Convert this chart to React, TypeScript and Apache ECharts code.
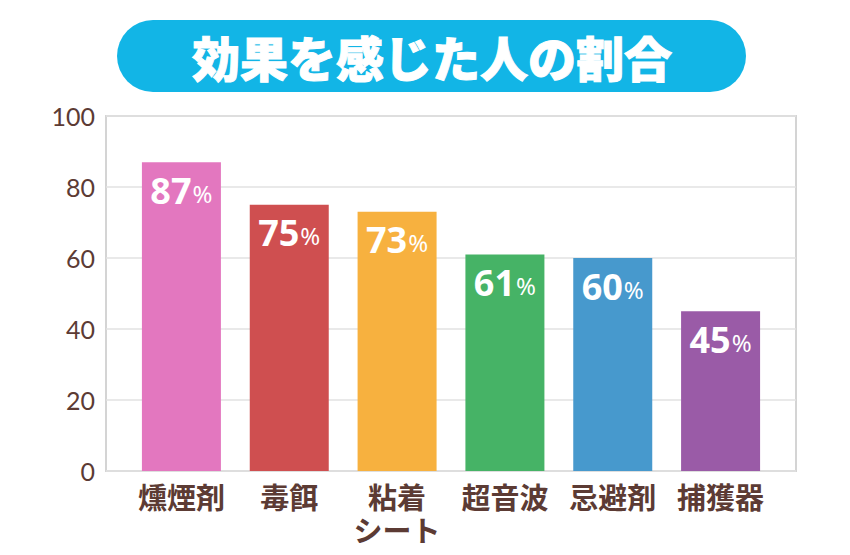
import React, { useEffect, useRef } from "react";
import * as echarts from "echarts";

const categories = ["燻煙剤", "毒餌", "粘着\nシート", "超音波", "忌避剤", "捕獲器"];
const values = [87, 75, 73, 61, 60, 45];
const barColors = ["#e377bf", "#cf4f50", "#f7b13f", "#46b366", "#4799cd", "#9a5ba7"];
const yTicks = [0, 20, 40, 60, 80, 100];
const titleText = "効果を感じた人の割合";

export default function App() {
  const ref = useRef<HTMLDivElement>(null);
  useEffect(() => {
    if (!ref.current) return;
    const chart = echarts.init(ref.current, null, { renderer: "svg" });
    const brown = "#5c3b34";
    chart.setOption({
      animation: false,
      backgroundColor: "#ffffff",
      graphic: [
        {
          type: "rect",
          shape: { x: 117, y: 20, width: 629, height: 72, r: 36 },
          style: { fill: "#12b5e6" },
        },
        {
          type: "text",
          x: 432,
          y: 56,
          style: {
            text: titleText,
            fill: "#ffffff",
            font: "900 48px 'Noto Sans CJK JP'",
            align: "center",
            verticalAlign: "middle",
            stroke: "#ffffff",
            lineWidth: 1,
          },
        },
      ],
      grid: [
        { left: 106, right: 54, top: 116, bottom: 84, show: true, borderColor: "#d4d4d4", borderWidth: 2, backgroundColor: "transparent" },
        { left: 127.5, right: 75.5, top: 116, bottom: 84 },
      ],
      xAxis: [
        { type: "value", gridIndex: 0, show: false, min: 0, max: 1 },
        {
          type: "category",
          gridIndex: 1,
          data: categories,
          axisLine: { show: false },
          axisTick: { show: false },
          axisLabel: {
            color: brown,
            fontSize: 29,
            fontWeight: "bold",
            fontFamily: "'Noto Sans CJK JP'",
            lineHeight: 33,
            margin: 8,
            interval: 0,
          },
        },
      ],
      yAxis: [
        {
          type: "value",
          gridIndex: 0,
          min: yTicks[0],
          max: yTicks[yTicks.length - 1],
          interval: 20,
          axisLine: { show: false },
          axisTick: { show: false },
          splitLine: { lineStyle: { color: "#e2e2e2", width: 1.5 } },
          axisLabel: { color: brown, fontSize: 25, fontFamily: "Lato", margin: 11 },
        },
        { type: "value", gridIndex: 1, min: 0, max: 100, show: false },
      ],
      series: [
        {
          type: "bar",
          xAxisIndex: 1,
          yAxisIndex: 1,
          barWidth: 79,
          data: values.map((v, i) => ({ value: v, itemStyle: { color: barColors[i] } })),
          label: {
            show: true,
            position: "insideTop",
            distance: 10,
            formatter: (p: any) => `{n|${p.value}}{p|%}`,
            rich: {
              n: { color: "#fff", fontSize: 36, fontWeight: "bold", fontFamily: "'Noto Sans'" },
              p: { color: "#fff", fontSize: 24, fontFamily: "'Noto Sans'", padding: [6, 0, 0, 1] },
            },
          },
        },
      ],
    });
    return () => chart.dispose();
  }, []);
  return <div ref={ref} style={{ position: "fixed", left: 0, top: 0, width: 850, height: 555 }} />;
}
